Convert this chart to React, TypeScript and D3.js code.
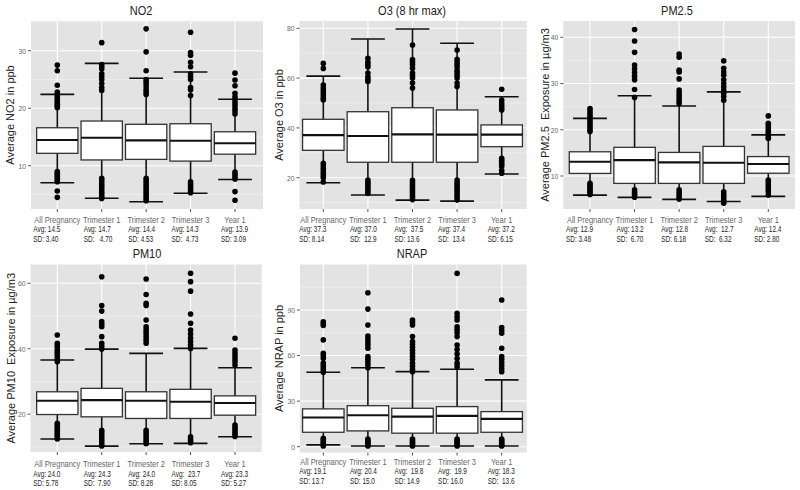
import React from "react";
import * as d3 from "d3";

// ---------- DATA ----------
const CATS = ["All Pregnancy", "Trimester 1", "Trimester 2", "Trimester 3", "Year 1"];

// NO2 (ppb)
const NO2_TICKS = [10, 20, 30];
const NO2_Q1 = [12.15, 11.0, 11.1, 10.8, 12.0];
const NO2_MED = [14.47, 14.87, 14.4, 14.35, 13.9];
const NO2_Q3 = [16.6, 17.77, 17.2, 17.3, 15.9];
const NO2_LO = [7.04, 4.33, 3.74, 5.2, 7.6];
const NO2_HI = [22.4, 27.8, 25.2, 26.3, 21.55];
const NO2_OUT = [
  [27.5, 26.5, 24.0, 22.8, 22.4, 22.0, 21.7, 21.3, 21.0, 20.7, 20.4, 20.1, 9.0, 8.7, 8.4, 8.1, 7.8, 7.5, 7.2, 5.6, 4.5],
  [31.4, 27.6, 27.2, 26.8, 26.0, 25.5, 25.0, 24.3, 23.6, 23.1, 7.8, 7.4, 7.0, 6.6, 6.2, 5.8, 5.4, 5.0, 4.6, 4.3],
  [33.8, 29.8, 26.5, 25.0, 24.6, 24.2, 23.7, 23.2, 22.8, 22.4, 7.8, 7.4, 7.0, 6.6, 6.2, 5.8, 5.4, 5.0, 4.6, 4.2, 3.9],
  [33.2, 29.7, 29.2, 28.0, 27.2, 26.0, 25.5, 25.0, 23.6, 23.2, 22.2, 7.2, 6.8, 6.4, 6.0, 5.6, 5.3],
  [26.1, 24.9, 23.9, 22.6, 22.0, 21.5, 21.0, 20.5, 20.0, 19.5, 19.0, 8.9, 8.5, 8.1, 7.7, 5.5, 4.0],
];
const NO2_AVG = ["Avg: 14.5", "Avg: 14.7", "Avg: 14.4", "Avg: 14.3", "Avg: 13.9"];
const NO2_SD = ["SD: 3.40", "SD:   4.70", "SD: 4.53", "SD:  4.73", "SD: 3.09"];

// O3 (8 hr max)
const O3_TICKS = [20, 40, 60, 80];
const O3_Q1 = [31.0, 26.2, 26.2, 26.2, 32.45];
const O3_MED = [37.1, 36.75, 37.4, 37.3, 37.3];
const O3_Q3 = [43.45, 46.5, 48.1, 47.2, 41.2];
const O3_LO = [18.0, 13.05, 11.0, 10.6, 21.5];
const O3_HI = [60.8, 75.7, 79.7, 74.0, 52.5];
const O3_OUT = [
  [65.9, 63.9, 57.2, 56.0, 55.0, 54.0, 53.0, 52.0, 51.2, 25.8, 24.8, 23.8, 22.8, 21.8, 20.8, 20.0, 18.3],
  [68.0, 66.5, 65.5, 64.5, 62.0, 60.5, 59.5, 58.6, 19.1, 18.2, 17.3, 16.4, 15.5, 14.6, 13.7],
  [73.3, 67.5, 66.5, 65.5, 64.0, 62.0, 61.0, 60.0, 58.0, 56.0, 19.0, 18.0, 17.0, 16.0, 15.0, 14.0, 13.0, 12.0, 11.2],
  [71.3, 67.6, 66.5, 65.5, 64.5, 63.0, 62.0, 61.0, 60.0, 58.0, 56.6, 19.1, 18.0, 17.0, 16.0, 15.0, 14.0, 13.0, 12.0, 11.0],
  [55.5, 51.2, 50.0, 49.0, 48.0, 47.2, 27.8, 27.0, 26.2, 25.4, 24.6, 23.0, 21.8],
];
const O3_AVG = ["Avg: 37.3", "Avg: 37.0", "Avg:  37.5", "Avg: 37.4", "Avg: 37.2"];
const O3_SD = ["SD: 8.14", "SD:  12.9", "SD: 13.6", "SD:  13.4", "SD: 6.15"];

// PM2.5
const PM25_TICKS = [10, 20, 30, 40];
const PM25_Q1 = [10.56, 8.4, 8.4, 8.4, 10.6];
const PM25_MED = [13.07, 13.44, 12.94, 12.86, 12.6];
const PM25_Q3 = [15.24, 16.2, 15.1, 16.4, 14.2];
const PM25_LO = [5.87, 5.37, 4.94, 4.5, 5.6];
const PM25_HI = [22.47, 27.36, 25.13, 28.2, 18.9];
const PM25_OUT = [
  [24.6, 24.1, 23.6, 23.1, 22.6, 22.1, 21.6, 21.1, 20.6, 20.1, 19.6, 8.4, 8.0, 7.6, 7.2, 6.8, 6.4, 6.0],
  [41.7, 39.2, 36.75, 34.0, 33.2, 32.4, 31.6, 30.8, 28.7, 27.0, 7.0, 6.6, 6.2, 5.8, 5.4],
  [36.4, 35.7, 32.9, 32.5, 31.0, 28.6, 28.0, 27.4, 26.8, 26.2, 25.7, 7.0, 6.5, 6.0, 5.5, 5.0],
  [34.9, 33.3, 32.5, 31.8, 30.8, 30.0, 29.3, 28.6, 27.9, 27.2, 26.4, 6.6, 6.0, 5.5, 5.0, 4.5, 4.1],
  [23.0, 21.4, 20.9, 20.4, 19.9, 19.4, 18.9, 18.4, 18.1, 9.1, 8.6, 8.1, 7.6, 7.1, 6.6, 5.9],
];
const PM25_AVG = ["Avg: 12.9", "Avg: 13.2", "Avg: 12.8", "Avg:  12.7", "Avg: 12.4"];
const PM25_SD = ["SD: 3.48", "SD:  6.70", "SD: 6.18", "SD:  6.32", "SD: 2.80"];

// PM10
const PM10_TICKS = [20, 40, 60];
const PM10_Q1 = [19.9, 19.2, 18.7, 18.7, 19.7];
const PM10_MED = [24.1, 24.3, 24.1, 23.8, 23.4];
const PM10_Q3 = [26.85, 27.9, 26.85, 27.6, 25.6];
const PM10_LO = [12.4, 10.25, 10.95, 11.1, 13.1];
const PM10_HI = [36.55, 39.9, 38.6, 40.1, 34.2];
const PM10_OUT = [
  [44.2, 41.7, 41.0, 40.3, 39.6, 38.9, 38.2, 37.5, 36.8, 36.0, 17.2, 16.6, 16.0, 15.4, 14.8, 14.2, 13.6, 13.0, 12.4],
  [62.0, 53.2, 51.5, 48.3, 47.5, 46.7, 43.7, 41.65, 40.8, 39.9, 15.1, 14.4, 13.7, 13.0, 12.3, 11.6, 10.9, 10.3],
  [61.3, 56.6, 53.9, 53.2, 48.8, 46.7, 45.8, 45.0, 44.2, 43.4, 42.6, 41.7, 15.1, 14.4, 13.7, 13.0, 12.3, 11.6, 11.0],
  [63.05, 60.5, 57.6, 50.6, 47.8, 45.7, 44.5, 43.3, 42.2, 41.1, 40.1, 13.1, 12.5, 11.9, 11.3],
  [43.2, 39.6, 38.7, 37.8, 36.9, 36.0, 35.0, 16.7, 16.0, 15.3, 14.6, 13.9, 13.2],
];
const PM10_AVG = ["Avg: 24.0", "Avg: 24.3", "Avg: 24.0", "Avg:  23.7", "Avg: 23.3"];
const PM10_SD = ["SD: 5.78", "SD:  7.90", "SD: 8.28", "SD: 8.05", "SD: 5.27"];

// NRAP
const NRAP_TICKS = [0, 30, 60, 90];
const NRAP_Q1 = [9.5, 10.4, 8.9, 8.9, 9.5];
const NRAP_MED = [19.2, 20.7, 19.8, 20.3, 18.3];
const NRAP_Q3 = [24.9, 27.0, 25.3, 26.4, 23.1];
const NRAP_LO = [1.2, 0.5, 0.5, 0.5, 0.5];
const NRAP_HI = [49.0, 52.0, 49.4, 51.0, 44.0];
const NRAP_OUT = [
  [82.3, 81.0, 79.8, 70.3, 61.5, 60.0, 58.2, 55.0, 53.5, 52.0, 50.5, 49.0, 5.6, 4.5, 3.5, 2.5, 1.5, 0.5],
  [101.4, 90.6, 80.1, 72.9, 71.0, 69.0, 67.0, 64.8, 59.3, 57.5, 55.8, 54.0, 52.0, 5.0, 4.0, 3.0, 2.0, 1.0, 0.5],
  [83.4, 82.0, 80.1, 72.5, 69.2, 67.5, 65.5, 63.5, 61.5, 59.5, 57.5, 55.0, 53.0, 51.0, 49.4, 5.0, 4.0, 3.0, 2.0, 1.0, 0.5],
  [114.1, 87.8, 85.5, 83.4, 79.0, 77.0, 75.0, 72.5, 67.0, 64.0, 61.0, 58.0, 55.0, 52.7, 5.0, 4.0, 3.0, 2.0, 1.0, 0.5],
  [96.6, 78.4, 76.5, 74.7, 64.8, 59.3, 57.5, 55.5, 53.5, 51.5, 49.4, 5.0, 4.0, 3.0, 2.0, 1.0, 0.5],
];
const NRAP_AVG = ["Avg: 19.1", "Avg: 20.4", "Avg:  19.8", "Avg:  19.9", "Avg: 18.3"];
const NRAP_SD = ["SD: 13.7", "SD: 15.0", "SD: 14.9", "SD: 16.0", "SD:  13.6"];

// ---------- LAYOUT / STYLE ----------
const PANELS = [
  {
    title: "NO2", ylab: "Average NO2 in ppb",
    ticks: NO2_TICKS, q1: NO2_Q1, med: NO2_MED, q3: NO2_Q3, lo: NO2_LO, hi: NO2_HI, out: NO2_OUT, avg: NO2_AVG, sd: NO2_SD,
    x0: 31, x1: 263, y0: 21, y1: 209, px: [57.3, 235], yd: [10, 30], yr: [165.7, 50.7],
    titleX: 141, titleY: 14.5, ylabX: 10, textY: [222.5, 232, 241.5],
  },
  {
    title: "O3 (8 hr max)", ylab: "Average O3 in ppb",
    ticks: O3_TICKS, q1: O3_Q1, med: O3_MED, q3: O3_Q3, lo: O3_LO, hi: O3_HI, out: O3_OUT, avg: O3_AVG, sd: O3_SD,
    x0: 299.5, x1: 526.7, y0: 21, y1: 209, px: [323.3, 501.7], yd: [20, 80], yr: [177.7, 28.3],
    titleX: 412, titleY: 14.5, ylabX: 279.3, textY: [222.5, 232, 241.5],
  },
  {
    title: "PM2.5", ylab: "Average PM2.5  Exposure in \u00B5g/m3",
    ticks: PM25_TICKS, q1: PM25_Q1, med: PM25_MED, q3: PM25_Q3, lo: PM25_LO, hi: PM25_HI, out: PM25_OUT, avg: PM25_AVG, sd: PM25_SD,
    x0: 563.3, x1: 795, y0: 21, y1: 209, px: [590, 768.3], yd: [10, 40], yr: [176, 37.3],
    titleX: 677, titleY: 14.5, ylabX: 545, textY: [222.5, 232, 241.5],
  },
  {
    title: "PM10", ylab: "Average PM10  Exposure in \u00B5g/m3",
    ticks: PM10_TICKS, q1: PM10_Q1, med: PM10_MED, q3: PM10_Q3, lo: PM10_LO, hi: PM10_HI, out: PM10_OUT, avg: PM10_AVG, sd: PM10_SD,
    x0: 30.5, x1: 261.7, y0: 264.5, y1: 452, px: [57.3, 235], yd: [20, 60], yr: [414.2, 283.3],
    titleX: 147, titleY: 258, ylabX: 11.7, textY: [467, 476.5, 486],
  },
  {
    title: "NRAP", ylab: "Average NRAP in ppb",
    ticks: NRAP_TICKS, q1: NRAP_Q1, med: NRAP_MED, q3: NRAP_Q3, lo: NRAP_LO, hi: NRAP_HI, out: NRAP_OUT, avg: NRAP_AVG, sd: NRAP_SD,
    x0: 300, x1: 526.7, y0: 264.5, y1: 452.5, px: [323.3, 501.7], yd: [0, 90], yr: [446.7, 310],
    titleX: 412, titleY: 258, ylabX: 279.3, textY: [465, 473.8, 483.5],
  },
];

const TEXT_OFF = [-24, -18, -18, -19, -14];
const FONT = "'Liberation Sans', Arial, sans-serif";

function SText({ x, y, size, sx = 1, anchor = "start", fill = "#333", weight = "normal", children }: any) {
  return (
    <text
      transform={`translate(${x},${y}) scale(${sx},1)`}
      fontSize={size}
      fontFamily={FONT}
      textAnchor={anchor}
      fill={fill}
      fontWeight={weight}
      style={{ whiteSpace: "pre" }}
    >
      {children}
    </text>
  );
}

function Panel({ p }: any) {
  const x = d3.scalePoint<string>().domain(CATS).range(p.px);
  const y = d3.scaleLinear().domain(p.yd).range(p.yr);
  const step = x.step();
  const boxW = step * 0.93;
  const capW = step * 0.76;
  const vMin = y.invert(p.y1);
  const vMax = y.invert(p.y0);
  const t = p.ticks[1] - p.ticks[0];
  const minor: number[] = [];
  for (let v = p.ticks[0] - t * 1.5; v <= p.ticks[p.ticks.length - 1] + t * 1.5; v += t) {
    if (v > vMin && v < vMax) minor.push(v);
  }
  const major = p.ticks.filter((v: number) => v >= vMin && v <= vMax);
  const midY = (p.y0 + p.y1) / 2;
  return (
    <g>
      <rect x={p.x0} y={p.y0} width={p.x1 - p.x0} height={p.y1 - p.y0} fill="#E3E3E3" />
      {minor.map((v, i) => (
        <line key={"mn" + i} x1={p.x0} x2={p.x1} y1={y(v)} y2={y(v)} stroke="#F3F3F3" strokeWidth={0.6} />
      ))}
      {major.map((v: number, i: number) => (
        <line key={"mj" + i} x1={p.x0} x2={p.x1} y1={y(v)} y2={y(v)} stroke="#FFFFFF" strokeWidth={1.1} />
      ))}
      {CATS.map((c, i) => (
        <line key={"vg" + i} x1={x(c)} x2={x(c)} y1={p.y0} y2={p.y1} stroke="#FFFFFF" strokeWidth={1.1} />
      ))}
      {CATS.map((c, i) => {
        const cx = x(c) as number;
        return (
          <g key={"bx" + i}>
            <line x1={cx} x2={cx} y1={y(p.lo[i])} y2={y(p.hi[i])} stroke="#111" strokeWidth={1.6} />
            <line x1={cx - capW / 2} x2={cx + capW / 2} y1={y(p.hi[i])} y2={y(p.hi[i])} stroke="#111" strokeWidth={1.6} />
            <line x1={cx - capW / 2} x2={cx + capW / 2} y1={y(p.lo[i])} y2={y(p.lo[i])} stroke="#111" strokeWidth={1.6} />
            <rect
              x={cx - boxW / 2}
              y={y(p.q3[i])}
              width={boxW}
              height={y(p.q1[i]) - y(p.q3[i])}
              fill="#FFFFFF"
              stroke="#333"
              strokeWidth={1.3}
            />
            <line x1={cx - boxW / 2} x2={cx + boxW / 2} y1={y(p.med[i])} y2={y(p.med[i])} stroke="#111" strokeWidth={2.1} />
            {p.out[i].map((v: number, j: number) => (
              <circle key={j} cx={cx} cy={y(v)} r={2.8} fill="#000" />
            ))}
          </g>
        );
      })}
      {major.map((v: number, i: number) => (
        <g key={"yt" + i}>
          <line x1={p.x0 - 3} x2={p.x0} y1={y(v)} y2={y(v)} stroke="#555" strokeWidth={1} />
          <SText x={p.x0 - 5} y={y(v) + 2.8} size={8} sx={0.85} anchor="end" fill="#666">
            {String(v)}
          </SText>
        </g>
      ))}
      {CATS.map((c, i) => {
        const cx = x(c) as number;
        return (
          <g key={"xt" + i}>
            <line x1={cx} x2={cx} y1={p.y1} y2={p.y1 + 3} stroke="#555" strokeWidth={1} />
            <SText x={cx} y={p.textY[0]} size={8.6} sx={0.87} anchor="middle" fill="#666">
              {c}
            </SText>
            <SText x={cx + TEXT_OFF[i]} y={p.textY[1]} size={8.7} sx={0.74} fill="#1E1E1E">
              {p.avg[i]}
            </SText>
            <SText x={cx + TEXT_OFF[i]} y={p.textY[2]} size={8.7} sx={0.74} fill="#1E1E1E">
              {p.sd[i]}
            </SText>
          </g>
        );
      })}
      <SText x={p.titleX} y={p.titleY} size={12.5} sx={0.88} anchor="middle" fill="#222">
        {p.title}
      </SText>
      <text
        transform={`translate(${p.ylabX + 3.5},${midY}) rotate(-90)`}
        fontSize={11}
        fontFamily={FONT}
        textAnchor="middle"
        fill="#222"
        style={{ whiteSpace: "pre" }}
      >
        {p.ylab}
      </text>
    </g>
  );
}

export default function App() {
  return (
    <svg
      width={800}
      height={490}
      viewBox="0 0 800 490"
      style={{ position: "absolute", left: 0, top: 0, background: "#FFFFFF" }}
    >
      <rect x={0} y={0} width={800} height={490} fill="#FFFFFF" />
      {PANELS.map((p, i) => (
        <Panel key={i} p={p} />
      ))}
    </svg>
  );
}
